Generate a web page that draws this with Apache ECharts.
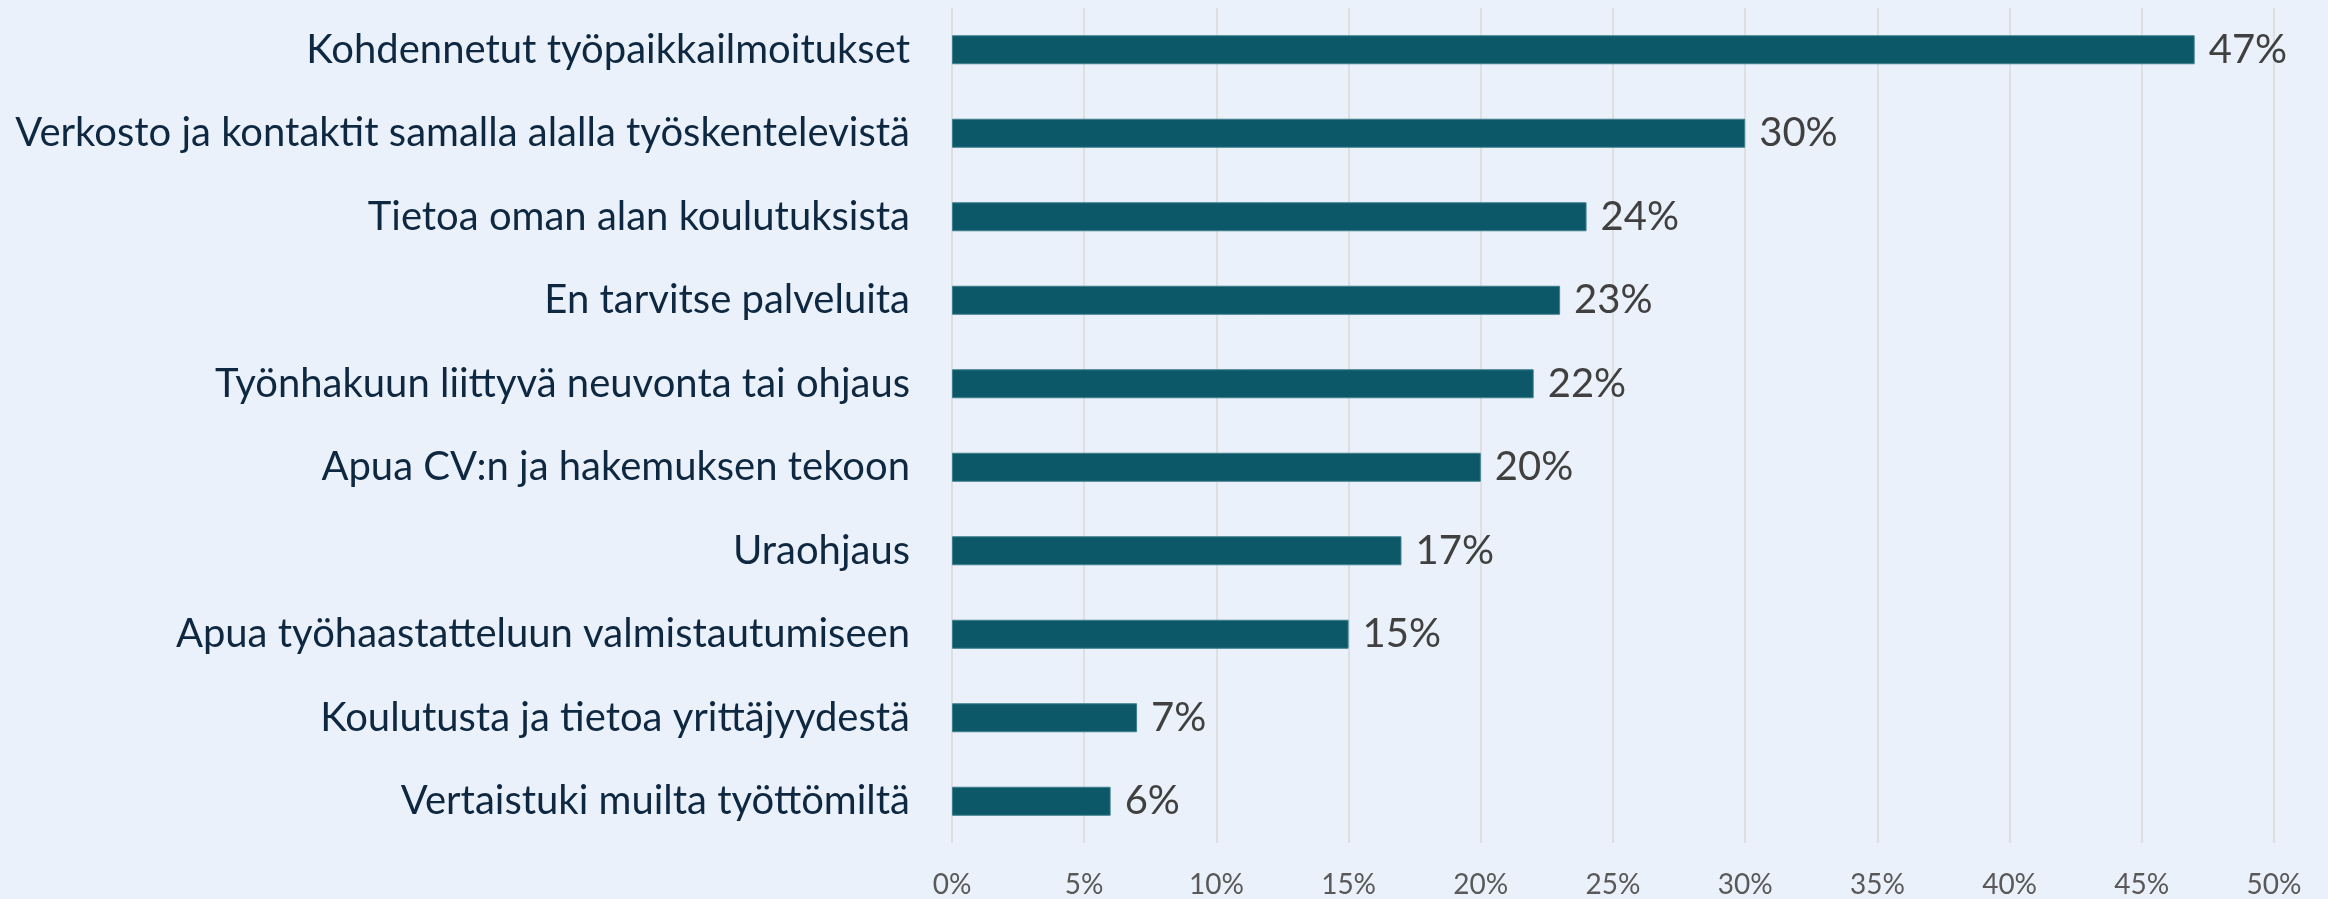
<!DOCTYPE html>
<html>
<head>
<meta charset="utf-8">
<script src="https://cdn.jsdelivr.net/npm/echarts@6/dist/echarts.min.js"></script>
<style>
html,body{margin:0;padding:0;background:#EBF1FA;}
#chart{width:2328px;height:899px;}
</style>
</head>
<body>
<div id="chart"></div>
<script>
const categories = [
  "Kohdennetut työpaikkailmoitukset",
  "Verkosto ja kontaktit samalla alalla työskentelevistä",
  "Tietoa oman alan koulutuksista",
  "En tarvitse palveluita",
  "Työnhakuun liittyvä neuvonta tai ohjaus",
  "Apua CV:n ja hakemuksen tekoon",
  "Uraohjaus",
  "Apua työhaastatteluun valmistautumiseen",
  "Koulutusta ja tietoa yrittäjyydestä",
  "Vertaistuki muilta työttömiltä"
];
const values = [47, 30, 24, 23, 22, 20, 17, 15, 7, 6];
const axisMin = 0, axisMax = 50, axisStep = 5;

const chart = echarts.init(document.getElementById('chart'));
chart.setOption({
  backgroundColor: '#EBF1FA',
  animation: false,
  grid: {left: 952, right: 54, top: 8, bottom: 54, containLabel: false},
  xAxis: {
    type: 'value', min: axisMin, max: axisMax, interval: axisStep,
    axisLine: {show: false}, axisTick: {show: false},
    axisLabel: {formatter: '{value}%', color: '#595959', fontFamily: 'Lato', fontSize: 28, margin: 28},
    splitLine: {show: true, lineStyle: {color: '#D9D9D9', width: 1.5}}
  },
  yAxis: {
    type: 'category', data: categories, inverse: true,
    axisLine: {show: false}, axisTick: {show: false},
    axisLabel: {color: '#0E2841', fontFamily: 'Lato', fontSize: 40, margin: 42}
  },
  series: [{
    type: 'bar', data: values, barWidth: 29,
    itemStyle: {color: '#0D5868', borderColor: '#3F7F8C', borderWidth: 1},
    label: {show: true, position: 'right', distance: 14, formatter: '{c}%', color: '#404040', fontFamily: 'Lato', fontSize: 40}
  }]
});
</script>
</body>
</html>
